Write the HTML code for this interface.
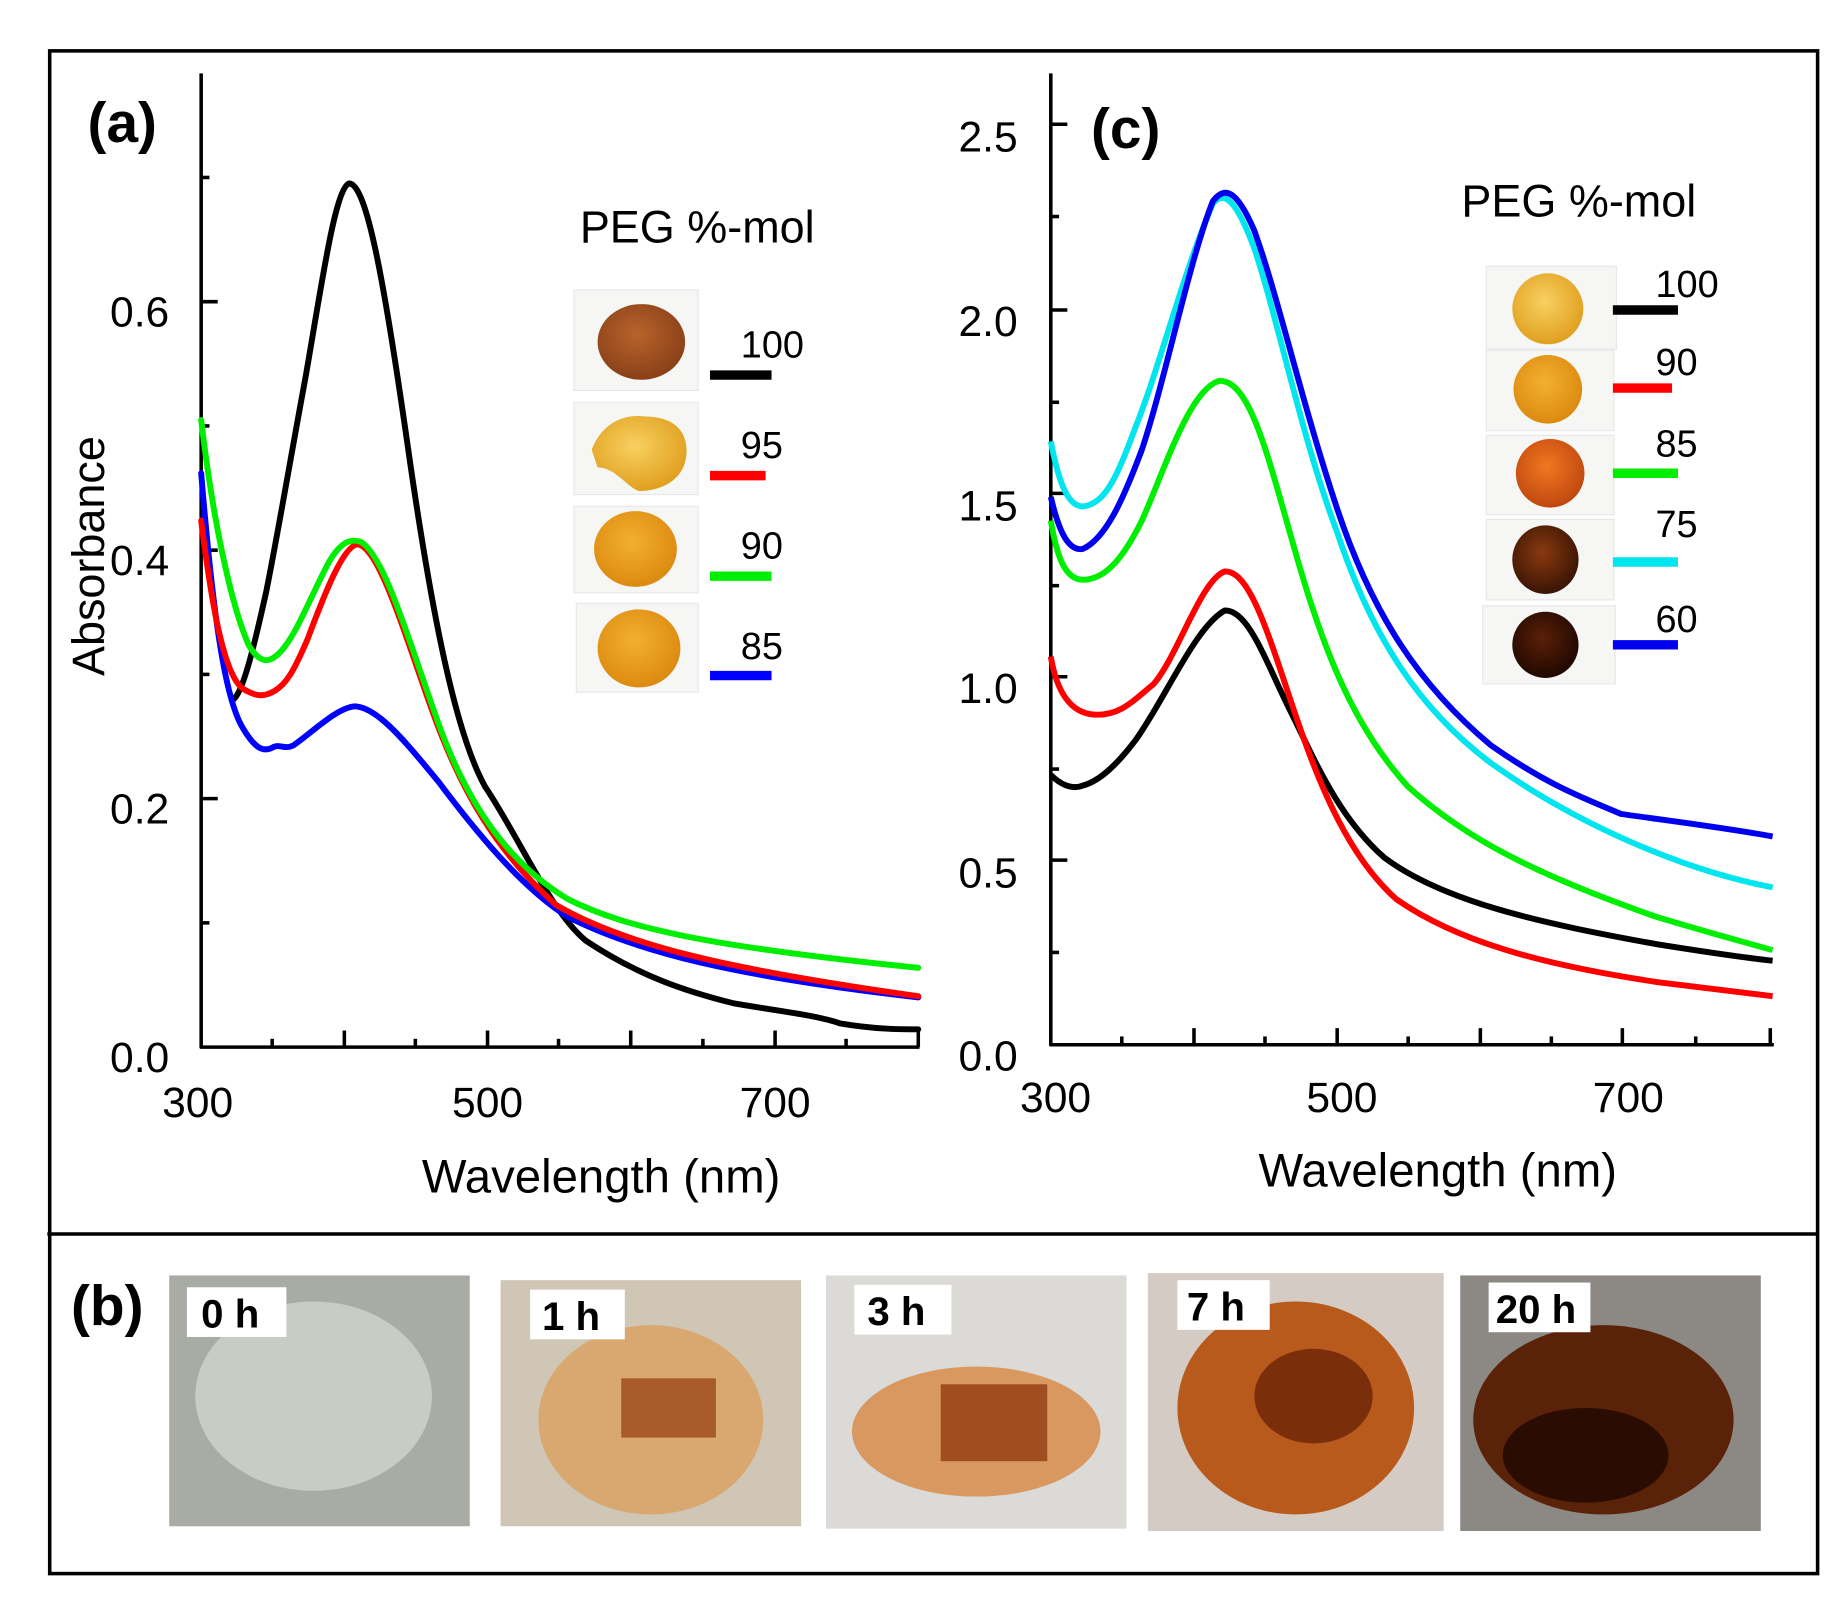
<!DOCTYPE html>
<html><head><meta charset="utf-8"><style>
html,body{margin:0;padding:0;background:#fff;}
svg{display:block;}
text{font-family:"Liberation Sans","DejaVu Sans",sans-serif;fill:#000;}
</style></head><body>
<svg width="1846" height="1615" viewBox="0 0 1560 1365" preserveAspectRatio="none" xmlns="http://www.w3.org/2000/svg">
<defs>
<radialGradient id="amb" cx="45%" cy="40%" r="60%"><stop offset="0" stop-color="#f2b030"/><stop offset="1" stop-color="#dc8a10"/></radialGradient>
<radialGradient id="brn" cx="45%" cy="40%" r="60%"><stop offset="0" stop-color="#b8642c"/><stop offset="1" stop-color="#8a4018"/></radialGradient>
<radialGradient id="lt" cx="45%" cy="40%" r="60%"><stop offset="0" stop-color="#f8d060"/><stop offset="1" stop-color="#e0a020"/></radialGradient>
<radialGradient id="or" cx="45%" cy="40%" r="60%"><stop offset="0" stop-color="#f07820"/><stop offset="1" stop-color="#c04810"/></radialGradient>
<radialGradient id="dk" cx="45%" cy="40%" r="60%"><stop offset="0" stop-color="#8a3a10"/><stop offset="1" stop-color="#3a1404"/></radialGradient>
<radialGradient id="vdk" cx="45%" cy="40%" r="60%"><stop offset="0" stop-color="#5a2008"/><stop offset="1" stop-color="#200800"/></radialGradient>
</defs>
<rect x="0" y="0" width="1560" height="1365" fill="#fff"/>
<rect x="42" y="43" width="1494" height="1287" fill="none" stroke="#000" stroke-width="3"/>
<line x1="40" y1="1043" x2="1536" y2="1043" stroke="#000" stroke-width="3"/>

<!-- Panel a axes -->
<g stroke="#000" stroke-width="3" fill="none">
<line x1="170" y1="62" x2="170" y2="886"/>
<line x1="169" y1="885" x2="777" y2="885"/>
<line x1="170" y1="255" x2="184" y2="255"/><line x1="170" y1="465" x2="184" y2="465"/><line x1="170" y1="675" x2="184" y2="675"/>
<line x1="170" y1="150" x2="177" y2="150"/><line x1="170" y1="360" x2="177" y2="360"/><line x1="170" y1="570" x2="177" y2="570"/><line x1="170" y1="780" x2="177" y2="780"/>
<line x1="291" y1="885" x2="291" y2="871"/><line x1="412" y1="885" x2="412" y2="871"/><line x1="533" y1="885" x2="533" y2="871"/><line x1="655" y1="885" x2="655" y2="871"/><line x1="776" y1="885" x2="776" y2="871"/>
<line x1="230" y1="885" x2="230" y2="878"/><line x1="351" y1="885" x2="351" y2="878"/><line x1="472" y1="885" x2="472" y2="878"/><line x1="594" y1="885" x2="594" y2="878"/><line x1="715" y1="885" x2="715" y2="878"/>
</g>
<g font-size="36">
<text x="93" y="276">0.6</text><text x="93" y="486">0.4</text><text x="93" y="696">0.2</text><text x="93" y="906">0.0</text>
<text x="137" y="944">300</text><text x="382" y="944">500</text><text x="625" y="944">700</text>
</g>
<text x="508" y="1008" font-size="40" text-anchor="middle">Wavelength (nm)</text>
<text transform="translate(88,470) rotate(-90)" font-size="38" text-anchor="middle">Absorbance</text>
<text x="74" y="120" font-size="48" font-weight="bold">(a)</text>

<g fill="none" stroke-width="5" stroke-linejoin="round" stroke-linecap="round">
<path stroke="#000" d="M196,592 C205,588 215,545 225,500 C235,450 245,390 258,320 C272,240 283,160 295,155 C310,155 325,240 345,380 C365,520 385,620 410,665 C440,710 465,770 495,795 C540,825 580,838 620,848 C660,855 690,858 710,865 C740,870 760,870 776,870"/>
<path stroke="#0000ff" d="M170,400 C180,520 190,590 205,615 C215,632 222,636 230,632 C236,628 240,634 248,630 C265,618 285,598 300,597 C320,598 345,630 370,660 C400,700 440,750 480,775 C540,805 620,825 776,843"/>
<path stroke="#ff0000" d="M170,440 C180,520 190,570 205,582 C215,588 222,590 232,584 C242,578 248,568 260,540 C275,500 290,462 302,460 C320,462 340,530 365,600 C390,670 420,720 470,765 C530,800 620,820 776,842"/>
<path stroke="#00ee00" d="M170,355 C180,440 195,510 210,545 C220,562 228,560 236,552 C250,538 262,505 278,475 C288,458 296,455 305,458 C325,470 345,540 370,610 C395,680 430,730 480,760 C530,785 600,800 776,818"/>
</g>

<!-- legend a -->
<text x="490" y="205" font-size="38">PEG %-mol</text>
<rect x="485" y="245" width="105" height="85" fill="#f6f6f4" stroke="#e8e8e8"/>
<ellipse cx="542" cy="289" rx="37" ry="32" fill="url(#brn)"/>
<rect x="485" y="340" width="105" height="78" fill="#f6f6f4" stroke="#e8e8e8"/>
<path d="M500,380 C510,355 530,350 545,352 C570,352 582,365 580,385 C578,405 560,415 540,415 C530,412 520,395 505,395 Z" fill="url(#lt)"/>
<rect x="485" y="428" width="105" height="73" fill="#f6f6f4" stroke="#e8e8e8"/>
<ellipse cx="537" cy="464" rx="35" ry="32" fill="url(#amb)"/>
<rect x="487" y="510" width="103" height="75" fill="#f6f6f4" stroke="#e8e8e8"/>
<ellipse cx="540" cy="548" rx="35" ry="33" fill="url(#amb)"/>
<g stroke-width="8">
<line x1="600" y1="317" x2="652" y2="317" stroke="#000"/>
<line x1="600" y1="402" x2="647" y2="402" stroke="#ff0000"/>
<line x1="600" y1="487" x2="652" y2="487" stroke="#00ee00"/>
<line x1="600" y1="571" x2="652" y2="571" stroke="#0000ff"/>
</g>
<g font-size="32"><text x="626" y="302">100</text><text x="626" y="387">95</text><text x="626" y="472">90</text><text x="626" y="557">85</text></g>

<!-- Panel c axes -->
<g stroke="#000" stroke-width="3" fill="none">
<line x1="888" y1="62" x2="888" y2="884"/>
<line x1="887" y1="883" x2="1499" y2="883"/>
<line x1="888" y1="105" x2="902" y2="105"/><line x1="888" y1="262" x2="902" y2="262"/><line x1="888" y1="417" x2="902" y2="417"/><line x1="888" y1="572" x2="902" y2="572"/><line x1="888" y1="727" x2="902" y2="727"/>
<line x1="888" y1="183" x2="895" y2="183"/><line x1="888" y1="340" x2="895" y2="340"/><line x1="888" y1="495" x2="895" y2="495"/><line x1="888" y1="650" x2="895" y2="650"/><line x1="888" y1="805" x2="895" y2="805"/>
<line x1="1009" y1="883" x2="1009" y2="869"/><line x1="1130" y1="883" x2="1130" y2="869"/><line x1="1251" y1="883" x2="1251" y2="869"/><line x1="1371" y1="883" x2="1371" y2="869"/><line x1="1496" y1="883" x2="1496" y2="869"/>
<line x1="948" y1="883" x2="948" y2="876"/><line x1="1069" y1="883" x2="1069" y2="876"/><line x1="1190" y1="883" x2="1190" y2="876"/><line x1="1311" y1="883" x2="1311" y2="876"/><line x1="1433" y1="883" x2="1433" y2="876"/>
</g>
<g font-size="36">
<text x="810" y="128">2.5</text><text x="810" y="284">2.0</text><text x="810" y="440">1.5</text><text x="810" y="594">1.0</text><text x="810" y="750">0.5</text><text x="810" y="905">0.0</text>
<text x="862" y="940">300</text><text x="1104" y="940">500</text><text x="1346" y="940">700</text>
</g>
<text x="1215" y="1003" font-size="40" text-anchor="middle">Wavelength (nm)</text>
<text x="922" y="125" font-size="48" font-weight="bold">(c)</text>

<g fill="none" stroke-width="5" stroke-linejoin="round">
<path stroke="#000" d="M888,655 C895,662 905,668 915,664 C930,660 945,645 960,625 C985,590 1010,530 1035,516 C1055,515 1070,560 1090,600 C1110,640 1130,690 1170,725 C1220,762 1300,780 1400,798 C1450,806 1480,810 1498,812"/>
<path stroke="#ff0000" d="M888,555 C893,585 905,603 925,604 C945,605 955,595 975,578 C995,555 1015,490 1035,483 C1055,482 1070,530 1090,590 C1110,650 1135,720 1180,760 C1230,795 1300,815 1400,830 C1450,836 1480,840 1498,842"/>
<path stroke="#00ee00" d="M888,440 C893,470 900,490 915,490 C935,490 950,470 965,440 C985,395 1005,330 1030,322 C1055,320 1070,380 1090,450 C1115,540 1140,610 1190,665 C1240,710 1300,740 1400,775 C1450,790 1480,798 1498,803"/>
<path stroke="#00e5ee" d="M888,373 C895,410 903,428 915,428 C935,426 945,400 960,360 C980,310 1000,230 1025,172 C1035,160 1045,170 1060,210 C1080,270 1100,370 1130,450 C1160,540 1200,600 1260,645 C1330,695 1420,735 1498,750"/>
<path stroke="#0000ee" d="M888,420 C895,450 903,466 915,464 C935,455 950,420 965,380 C985,320 1005,220 1025,170 C1035,157 1045,160 1060,195 C1080,250 1100,340 1130,430 C1160,520 1200,580 1260,630 C1310,665 1340,675 1370,688 C1420,695 1460,700 1498,707"/>
</g>

<!-- legend c -->
<text x="1235" y="183" font-size="38">PEG %-mol</text>
<rect x="1256" y="225" width="110" height="70" fill="#f6f6f4" stroke="#e8e8e8"/>
<ellipse cx="1308" cy="261" rx="30" ry="30" fill="url(#lt)"/>
<rect x="1256" y="296" width="108" height="68" fill="#f6f6f4" stroke="#e8e8e8"/>
<ellipse cx="1308" cy="329" rx="29" ry="29" fill="url(#amb)"/>
<rect x="1256" y="368" width="108" height="67" fill="#f6f6f4" stroke="#e8e8e8"/>
<ellipse cx="1310" cy="400" rx="29" ry="29" fill="url(#or)"/>
<rect x="1256" y="439" width="108" height="68" fill="#f6f6f4" stroke="#e8e8e8"/>
<ellipse cx="1306" cy="473" rx="28" ry="29" fill="url(#dk)"/>
<rect x="1253" y="512" width="112" height="66" fill="#f6f6f4" stroke="#e8e8e8"/>
<ellipse cx="1306" cy="545" rx="28" ry="28" fill="url(#vdk)"/>
<g stroke-width="8">
<line x1="1363" y1="262" x2="1418" y2="262" stroke="#000"/>
<line x1="1363" y1="328" x2="1413" y2="328" stroke="#ff0000"/>
<line x1="1363" y1="400" x2="1418" y2="400" stroke="#00ee00"/>
<line x1="1363" y1="475" x2="1418" y2="475" stroke="#00e5ee"/>
<line x1="1363" y1="545" x2="1418" y2="545" stroke="#0000ee"/>
</g>
<g font-size="32"><text x="1399" y="251">100</text><text x="1399" y="317">90</text><text x="1399" y="386">85</text><text x="1399" y="454">75</text><text x="1399" y="534">60</text></g>

<!-- Panel b -->
<text x="60" y="1120" font-size="48" font-weight="bold">(b)</text>
<rect x="143" y="1078" width="254" height="212" fill="#a8aca4"/>
<ellipse cx="265" cy="1180" rx="100" ry="80" fill="#c8ccc4"/>
<rect x="423" y="1082" width="254" height="208" fill="#cfc6b6"/>
<ellipse cx="550" cy="1200" rx="95" ry="80" fill="#d8a870"/>
<rect x="525" y="1165" width="80" height="50" fill="#a85a28"/>
<rect x="698" y="1078" width="254" height="214" fill="#dcdad6"/>
<ellipse cx="825" cy="1210" rx="105" ry="55" fill="#d89860"/>
<rect x="795" y="1170" width="90" height="65" fill="#a04e20"/>
<rect x="970" y="1076" width="250" height="218" fill="#d4ccc4"/>
<ellipse cx="1095" cy="1190" rx="100" ry="90" fill="#b85a1c"/>
<ellipse cx="1110" cy="1180" rx="50" ry="40" fill="#7a2e0a"/>
<rect x="1234" y="1078" width="254" height="216" fill="#8c8884"/>
<ellipse cx="1355" cy="1200" rx="110" ry="80" fill="#5a2208"/>
<ellipse cx="1340" cy="1230" rx="70" ry="40" fill="#2a0c02"/>
<g fill="#fff"><rect x="158" y="1088" width="84" height="42"/><rect x="448" y="1090" width="80" height="42"/><rect x="722" y="1086" width="82" height="42"/><rect x="995" y="1082" width="78" height="42"/><rect x="1258" y="1084" width="86" height="42"/></g>
<g font-size="34" font-weight="bold"><text x="170" y="1122">0 h</text><text x="458" y="1124">1 h</text><text x="733" y="1120">3 h</text><text x="1003" y="1116">7 h</text><text x="1264" y="1118">20 h</text></g>
</svg>
</body></html>
